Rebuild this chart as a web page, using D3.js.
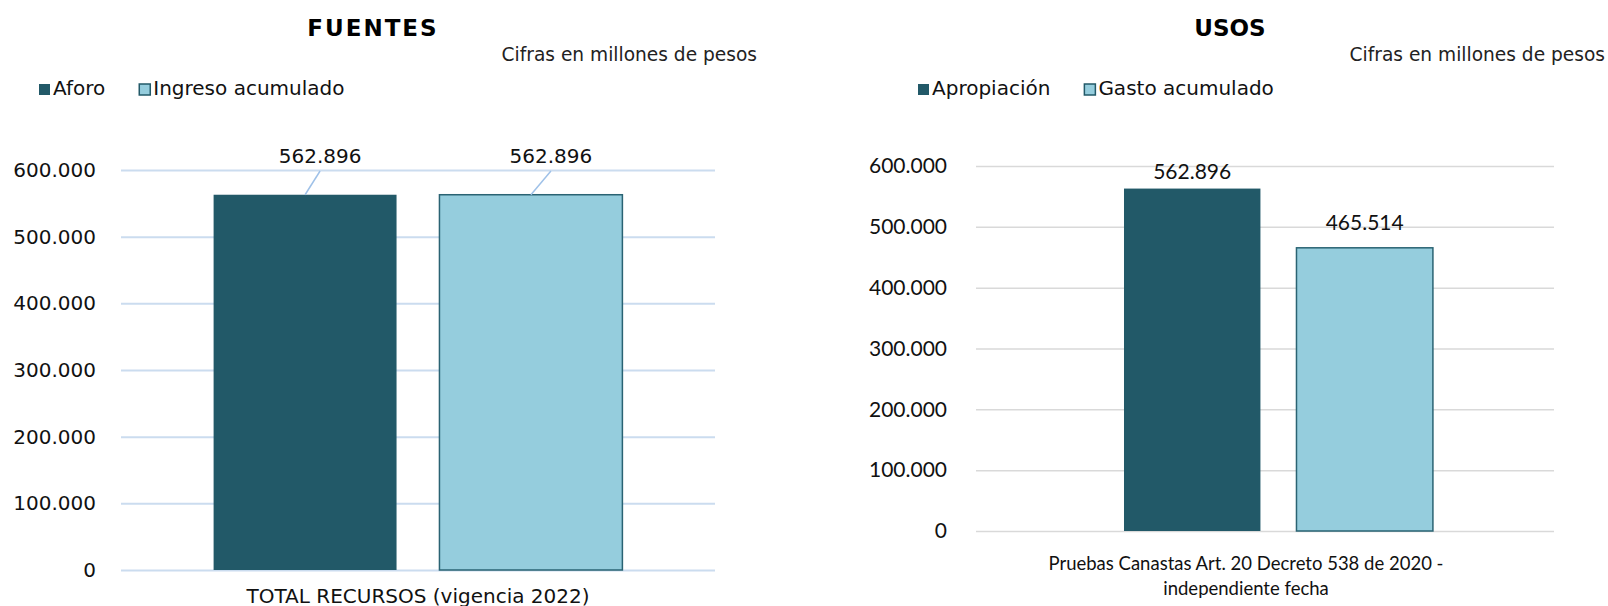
<!DOCTYPE html>
<html>
<head>
<meta charset="utf-8">
<script src="https://cdn.jsdelivr.net/npm/d3@7"></script>
<style>
  body { margin: 0; background: #fff; }
  svg { display: block; }
  .verdana { font-family: 'DejaVu Sans', Verdana, sans-serif; }
  .calibri { font-family: Lato, 'Open Sans', sans-serif; }
</style>
</head>
<body>
<svg id="chart" width="1608" height="606"></svg>
<script>
// chart data
const fuentesCategories = ['TOTAL RECURSOS (vigencia 2022)'];
const fuentesSeries = ['Aforo', 'Ingreso acumulado'];
const fuentesValues = [562896, 562896];

const usosCategories = ['Pruebas Canastas Art. 20 Decreto 538 de 2020 - independiente fecha'];
const usosCategoryLines = ['Pruebas Canastas Art. 20 Decreto 538 de 2020 -', 'independiente fecha'];
const usosSeries = ['Apropiación', 'Gasto acumulado'];
const usosValues = [562896, 465514];

const yTicks = [0, 100000, 200000, 300000, 400000, 500000, 600000];

const dark = '#225968';
const light = '#95cddd';

const locale = d3.formatLocale({ decimal: ',', thousands: '.', grouping: [3], currency: ['$', ''] });
const fmt = locale.format(',.0f');

const svg = d3.select('#chart');

// ---------- FUENTES ----------
const left = svg.append('g').attr('class', 'verdana');

const ly = d3.scaleLinear().domain([0, 600000]).range([570, 170]);
const lx0 = d3.scaleBand().domain(fuentesCategories).range([121, 715]);
const lx1 = d3.scaleBand().domain(fuentesSeries).range([0, lx0.bandwidth()])
  .paddingInner(0.19).paddingOuter(0.41);

left.append('text').text('FUENTES')
  .attr('x', 373).attr('y', 36).attr('text-anchor', 'middle')
  .style('font-weight', 'bold').style('font-size', '23px').style('letter-spacing', '2px');
left.append('text').text('Cifras en millones de pesos')
  .attr('x', 757).attr('y', 61).attr('text-anchor', 'end').style('font-size', '18.6px').attr('fill', '#222');

const lGrid = left.append('g').attr('transform', 'translate(121,0)')
  .call(d3.axisLeft(ly).tickValues(yTicks).tickSize(-594).tickFormat(fmt).tickPadding(25));
lGrid.select('.domain').remove();
lGrid.selectAll('.tick line').attr('stroke', '#cbdcef').attr('stroke-width', 2);
lGrid.selectAll('.tick text').style('font-size', '20px').attr('fill', '#111')
  .style('font-family', "'DejaVu Sans', Verdana, sans-serif");

const lBars = left.selectAll('.bar').data(fuentesSeries).enter();
lBars.append('rect')
  .attr('x', d => lx0(fuentesCategories[0]) + lx1(d))
  .attr('y', (d, i) => ly(fuentesValues[i]))
  .attr('width', lx1.bandwidth())
  .attr('height', (d, i) => ly(0) - ly(fuentesValues[i]))
  .attr('fill', (d, i) => i === 0 ? dark : light)
  .attr('stroke', (d, i) => i === 0 ? 'none' : '#2a6373')
  .attr('stroke-width', 1.5);

const labelDx = [15, 20];
lBars.append('line')
  .attr('x1', d => lx0(fuentesCategories[0]) + lx1(d) + lx1.bandwidth() / 2)
  .attr('y1', (d, i) => ly(fuentesValues[i]))
  .attr('x2', (d, i) => lx0(fuentesCategories[0]) + lx1(d) + lx1.bandwidth() / 2 + labelDx[i])
  .attr('y2', 171)
  .attr('stroke', '#9fc1e8').attr('stroke-width', 1.5);
lBars.append('text')
  .attr('x', (d, i) => lx0(fuentesCategories[0]) + lx1(d) + lx1.bandwidth() / 2 + labelDx[i])
  .attr('y', 162.5)
  .attr('text-anchor', 'middle').style('font-size', '20px').attr('fill', '#111')
  .text((d, i) => fmt(fuentesValues[i]));

const lAxis = left.append('g').attr('transform', 'translate(0,570)')
  .call(d3.axisBottom(lx0).tickSize(0).tickPadding(19));
lAxis.select('.domain').remove();
lAxis.selectAll('text').style('font-size', '20px').attr('fill', '#111')
  .style('font-family', "'DejaVu Sans', Verdana, sans-serif");

function legend(g, names, x0, y0) {
  let x = x0;
  names.forEach((n, i) => {
    g.append('rect').attr('x', x).attr('y', y0).attr('width', 11).attr('height', 11)
      .attr('fill', i === 0 ? dark : light)
      .attr('stroke', i === 0 ? 'none' : dark).attr('stroke-width', 1.5);
    const t = g.append('text').attr('x', x + 14).attr('y', y0 + 11)
      .style('font-size', '20px').attr('fill', '#111').text(n);
    x = x + 14 + t.node().getComputedTextLength() + 34;
  });
}
legend(left, fuentesSeries, 39, 84);

// ---------- USOS ----------
const right = svg.append('g').attr('class', 'verdana');

const ry = d3.scaleLinear().domain([0, 600000]).range([531, 166]);
const rx0 = d3.scaleBand().domain(usosCategories).range([976, 1554]);
const rx1 = d3.scaleBand().domain(usosSeries).range([0, rx0.bandwidth()])
  .paddingInner(0.209).paddingOuter(0.78).align(0.55);

right.append('text').text('USOS')
  .attr('x', 1230).attr('y', 36).attr('text-anchor', 'middle')
  .style('font-weight', 'bold').style('font-size', '23px');
right.append('text').text('Cifras en millones de pesos')
  .attr('x', 1605).attr('y', 61).attr('text-anchor', 'end').style('font-size', '18.6px').attr('fill', '#222');

const rGrid = right.append('g').attr('transform', 'translate(976,0)')
  .call(d3.axisLeft(ry).tickValues(yTicks).tickSize(-578).tickFormat(fmt).tickPadding(29));
rGrid.select('.domain').remove();
rGrid.selectAll('.tick line').attr('stroke', '#d9d9d9').attr('stroke-width', 1.5);
rGrid.selectAll('.tick text').style('font-size', '21px').attr('fill', '#111')
  .style('font-family', "Lato, 'Open Sans', sans-serif");

const rBars = right.selectAll('.bar').data(usosSeries).enter();
rBars.append('rect')
  .attr('x', d => rx0(usosCategories[0]) + rx1(d))
  .attr('y', (d, i) => ry(usosValues[i]))
  .attr('width', rx1.bandwidth())
  .attr('height', (d, i) => ry(0) - ry(usosValues[i]))
  .attr('fill', (d, i) => i === 0 ? dark : light)
  .attr('stroke', (d, i) => i === 0 ? 'none' : '#2a6373')
  .attr('stroke-width', 1.5);
rBars.append('text')
  .attr('x', d => rx0(usosCategories[0]) + rx1(d) + rx1.bandwidth() / 2)
  .attr('y', (d, i) => Math.max(ry(usosValues[i]) - 18, ry.range()[1] + 13))
  .attr('text-anchor', 'middle').attr('class', 'calibri').style('font-size', '21px').attr('fill', '#111')
  .text((d, i) => fmt(usosValues[i]));

const rAxis = right.append('g').attr('transform', 'translate(0,531)')
  .call(d3.axisBottom(rx0).tickSize(0).tickFormat(''));
rAxis.select('.domain').remove();
const rLabel = rAxis.select('.tick').append('text')
  .attr('class', 'calibri').attr('text-anchor', 'middle').attr('fill', '#111')
  .style('font-size', '18.5px');
usosCategoryLines.forEach((s, i) => {
  rLabel.append('tspan').attr('x', -19).attr('y', 39 + i * 25).text(s);
});

legend(right, usosSeries, 918, 84);
</script>
</body>
</html>
